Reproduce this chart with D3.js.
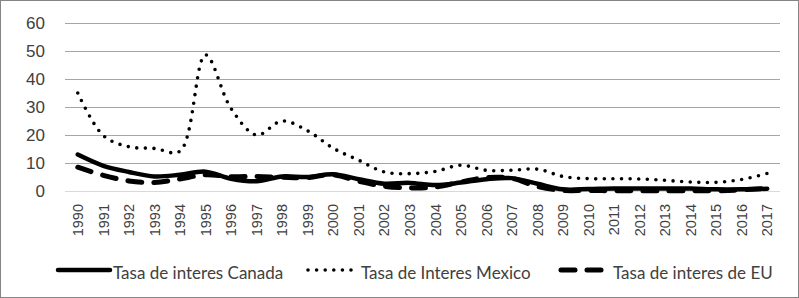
<!DOCTYPE html>
<html>
<head>
<meta charset="utf-8">
<script src="https://cdn.jsdelivr.net/npm/d3@7"></script>
<style>
  body { margin: 0; background: #fff; }
  svg { font-family: Lato, "Open Sans", sans-serif; }
</style>
</head>
<body>
<div id="chart"></div>
<script>
// Data
var years = d3.range(1990, 2018).map(String);
var canada = [13, 9, 6.8, 5.2, 5.8, 6.9, 4.4, 3.5, 5.2, 5, 6, 4.2, 2.6, 2.9, 2.1, 3, 4.2, 4.6, 2.6, 0.6, 0.7, 0.9, 0.9, 0.9, 0.9, 0.6, 0.6, 0.8];
var mexico = [35, 19.8, 15.8, 15.2, 14.2, 48.6, 29.5, 20, 25, 21.5, 15.3, 11, 6.8, 6.2, 7, 9.2, 7.4, 7.4, 7.8, 5.2, 4.4, 4.4, 4.3, 3.8, 3.2, 3.1, 4.1, 6.3];
var eu = [8.5, 5.6, 3.6, 3, 4.3, 5.8, 5.1, 5.2, 4.9, 4.8, 5.8, 3.5, 1.7, 1.1, 1.4, 3.2, 4.8, 4.5, 1.6, 0.2, 0.2, 0.1, 0.1, 0.1, 0.1, 0.1, 0.4, 1];
var yTicks = [0, 10, 20, 30, 40, 50, 60];

var series = [
  {name: "Tasa de interes Canada", values: canada, width: 4.5, dash: null},
  {name: "Tasa de Interes Mexico", values: mexico, width: 3.6, dash: "0,8.6"},
  {name: "Tasa de interes de EU", values: eu, width: 5, dash: "14,12"}
];

// Set the dimensions and margins of the graph
var W = 799, H = 298;
var margin = {top: 23, right: 19, bottom: 107, left: 65},
    width = W - margin.left - margin.right,
    height = H - margin.top - margin.bottom;

var svg = d3.select("#chart")
  .append("svg")
    .attr("width", W)
    .attr("height", H);

// outer border
svg.append("rect")
  .attr("x", 0.5).attr("y", 0.5)
  .attr("width", W - 1).attr("height", H - 1)
  .attr("fill", "#fff")
  .attr("stroke", "#858585");

var g = svg.append("g")
  .attr("transform", "translate(" + margin.left + "," + margin.top + ")");

var x = d3.scaleBand().domain(years).range([0, width]);
var y = d3.scaleLinear().domain([0, 60]).range([height, 0]);

// gridlines
g.selectAll(".grid")
  .data(yTicks)
  .enter()
  .append("line")
    .attr("x1", 0).attr("x2", width)
    .attr("y1", function(d) { return Math.round(y(d)) + 0.5; })
    .attr("y2", function(d) { return Math.round(y(d)) + 0.5; })
    .attr("stroke", function(d) { return d === 0 ? "#d9d9d9" : "#a6a6a6"; })
    .attr("stroke-width", 1);

// y axis labels
var yAxis = g.append("g")
  .call(d3.axisLeft(y).tickValues(yTicks).tickSize(0).tickPadding(20));
yAxis.select(".domain").remove();
yAxis.selectAll("text")
  .style("font-size", "17px")
  .style("fill", "#404040");

// x axis labels
var xAxis = g.append("g")
  .attr("transform", "translate(0," + height + ")")
  .call(d3.axisBottom(x).tickSize(0));
xAxis.select(".domain").remove();
xAxis.selectAll("text")
  .attr("transform", "rotate(-90)")
  .attr("x", -13)
  .attr("y", 0)
  .attr("dy", "0.36em")
  .style("text-anchor", "end")
  .style("font-size", "14.5px")
  .style("fill", "#404040");

// lines
var line = d3.line()
  .x(function(d, i) { return x(years[i]) + x.bandwidth() / 2; })
  .y(function(d) { return y(d); })
  .curve(d3.curveCatmullRom);

series.forEach(function(s) {
  g.append("path")
    .datum(s.values)
    .attr("d", line)
    .attr("fill", "none")
    .attr("stroke", "#000")
    .attr("stroke-width", s.width)
    .attr("stroke-linecap", "round")
    .attr("stroke-linejoin", "round")
    .attr("stroke-dasharray", s.dash);
});

// legend
var legendPos = [{x1: 58, x2: 110, tx: 113}, {x1: 308, x2: 357, tx: 361}, {x1: 561, x2: 610, tx: 613}];
var ly = 270;
series.forEach(function(s, i) {
  var p = legendPos[i];
  svg.append("line")
    .attr("x1", p.x1).attr("x2", p.x2)
    .attr("y1", ly).attr("y2", ly)
    .attr("stroke", "#000")
    .attr("stroke-width", s.width)
    .attr("stroke-linecap", "round")
    .attr("stroke-dasharray", s.dash);
  svg.append("text")
    .attr("x", p.tx).attr("y", 279)
    .style("font-size", "17px")
    .style("fill", "#404040")
    .text(s.name);
});
</script>
</body>
</html>
